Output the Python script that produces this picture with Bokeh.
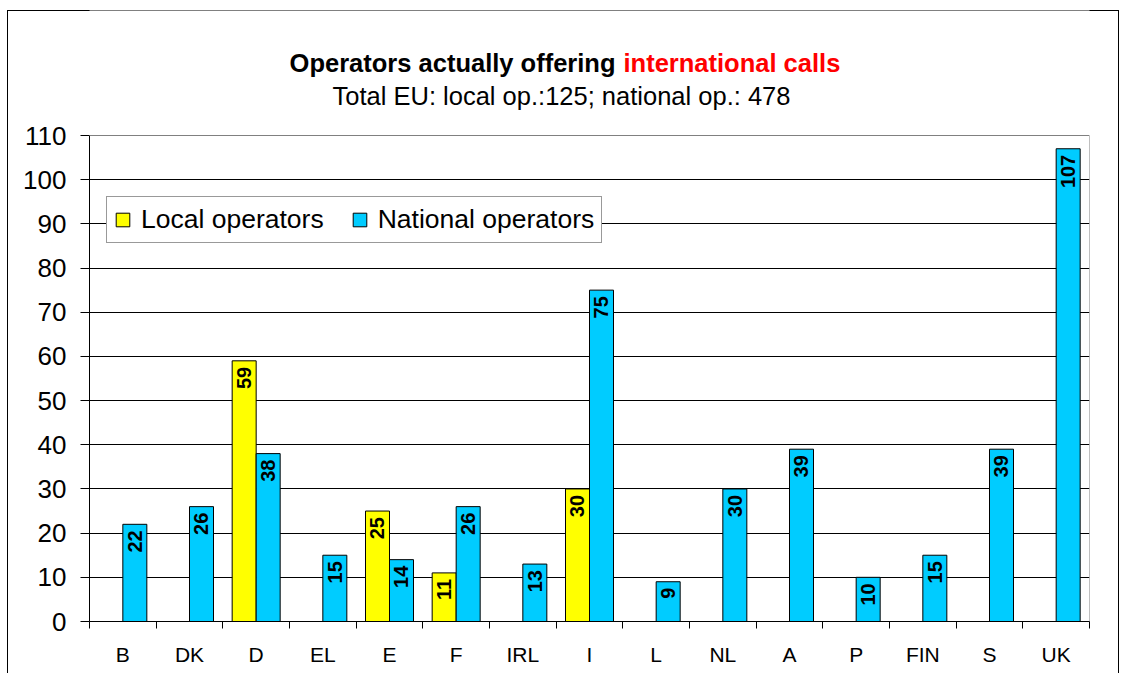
from bokeh.plotting import figure
from bokeh.models import (ColumnDataSource, Range1d, FixedTicker, Legend,
                          LegendItem, LabelSet, Span)
from bokeh.transform import dodge
from bokeh.core.properties import value
from bokeh.embed import file_html
from bokeh.resources import INLINE
import pandas as pd

countries = ["B", "DK", "D", "EL", "E", "F", "IRL", "I", "L", "NL", "A", "P", "FIN", "S", "UK"]
local_ops = [0, 0, 59, 0, 25, 11, 0, 30, 0, 0, 0, 0, 0, 0, 0]
national_ops = [22, 26, 38, 15, 14, 26, 13, 75, 9, 30, 39, 10, 15, 39, 107]
y_ticks = list(range(0, 111, 10))

title_black = "Operators actually offering"
title_red = "international calls"
subtitle = "Total EU: local op.:125; national op.: 478"

FONT = "Liberation Sans"

df = pd.DataFrame({"idx": list(range(len(countries))), "country": countries,
                   "local": local_ops, "national": national_ops})
df["local_lbl"] = df["local"].astype(str)
df["national_lbl"] = df["national"].astype(str)
src = ColumnDataSource(df)
src_local_lbl = ColumnDataSource(df[df["local"] > 0])
src_nat_lbl = ColumnDataSource(df[df["national"] > 0])

# layout (pixels): frame spans y 10..621 on page, value 110 sits at y=135
frame_h = 611
y_max = 110 * frame_h / 486.0

p = figure(frame_width=1000, frame_height=frame_h, output_backend="svg", toolbar_location=None,
           x_range=Range1d(-0.5, len(countries) - 0.5), y_range=Range1d(0, y_max),
           min_border_left=82, min_border_right=30, min_border_top=0, min_border_bottom=52)
p.border_fill_color = None
p.background_fill_color = "white"
p.outline_line_color = None
p.styles = {"margin-left": "7px", "margin-top": "10px",
            "box-shadow": "inset 1px 1px 0 #000000, inset -1px 0 0 #000000"}

bw = 0.36
r_local = p.vbar(x=dodge("idx", -bw / 2), top="local", width=bw, source=src,
                 fill_color="#FFFF00", line_color="black", line_width=1)
r_nat = p.vbar(x=dodge("idx", bw / 2), top="national", width=bw, source=src,
               fill_color="#00CCFF", line_color="black", line_width=1)

for s, col, off in [(src_local_lbl, "local", -bw / 2), (src_nat_lbl, "national", bw / 2)]:
    p.add_layout(LabelSet(x=dodge("idx", off), y=col, text=col + "_lbl", source=s,
                          angle=1.5707963, text_align="right", text_baseline="middle",
                          y_offset=-6, text_font=value(FONT), text_font_size="20px",
                          text_font_style="bold", text_color="black"))

# plot-area top and right edges (gray)
p.add_layout(Span(location=110, dimension="width", line_color="#808080", line_width=1))
p.segment(x0=[len(countries) - 0.5], y0=[0], x1=[len(countries) - 0.5], y1=[110],
          line_color="#808080", line_width=1)

# axes
p.xaxis.ticker = FixedTicker(ticks=list(range(len(countries))),
                             minor_ticks=[i - 0.5 for i in range(len(countries) + 1)])
p.xaxis.major_label_overrides = {i: c for i, c in enumerate(countries)}
p.xaxis.major_tick_out = 0
p.xaxis.major_tick_in = 0
p.xaxis.minor_tick_out = 7
p.xaxis.minor_tick_in = 0
p.xaxis.minor_tick_line_color = "black"
p.xaxis.axis_line_color = "black"
p.xaxis.major_label_text_font = FONT
p.xaxis.major_label_text_font_size = "21px"
p.xaxis.major_label_text_color = "black"
p.xaxis.major_label_standoff = 14

p.yaxis.ticker = FixedTicker(ticks=y_ticks)
p.yaxis.bounds = (0, 110)
p.yaxis.major_tick_out = 9
p.yaxis.major_tick_in = 0
p.yaxis.minor_tick_line_color = None
p.yaxis.axis_line_color = "black"
p.yaxis.major_tick_line_color = "black"
p.yaxis.major_label_text_font = FONT
p.yaxis.major_label_text_font_size = "26px"
p.yaxis.major_label_text_color = "black"
p.yaxis.major_label_standoff = 14

p.xgrid.visible = False
p.ygrid.ticker = FixedTicker(ticks=y_ticks[:-1])
p.ygrid.grid_line_color = "black"
p.ygrid.grid_line_width = 1

legend = Legend(items=[LegendItem(label="Local operators", renderers=[r_local]),
                       LegendItem(label="National operators", renderers=[r_nat])],
                location=(17, 378), orientation="horizontal",
                label_text_font=FONT, label_text_font_size="26.5px", label_text_color="black",
                glyph_width=17, glyph_height=17, label_standoff=10, spacing=27,
                padding=7, margin=0, border_line_color="#333333", border_line_width=1,
                background_fill_color="white", background_fill_alpha=1.0)
p.add_layout(legend, "center")

# titles drawn as text glyphs in the upper part of the frame
title_y = 110 * (621 - 62) / 486.0
sub_y = 110 * (621 - 95) / 486.0
p.text(x=[7.39], y=[title_y], text=[title_black], text_align="right",
       text_baseline="alphabetic", text_font=value(FONT), text_font_size="25.5px",
       text_font_style="bold", text_color="black")
p.text(x=[7.51], y=[title_y], text=[title_red], text_align="left",
       text_baseline="alphabetic", text_font=value(FONT), text_font_size="25.5px",
       text_font_style="bold", text_color="#FF0000")
p.text(x=[6.58], y=[sub_y], text=[subtitle], text_align="center",
       text_baseline="alphabetic", text_font=value(FONT), text_font_size="25.5px",
       text_color="black")

open("out.html", "w").write(file_html(p, INLINE))
